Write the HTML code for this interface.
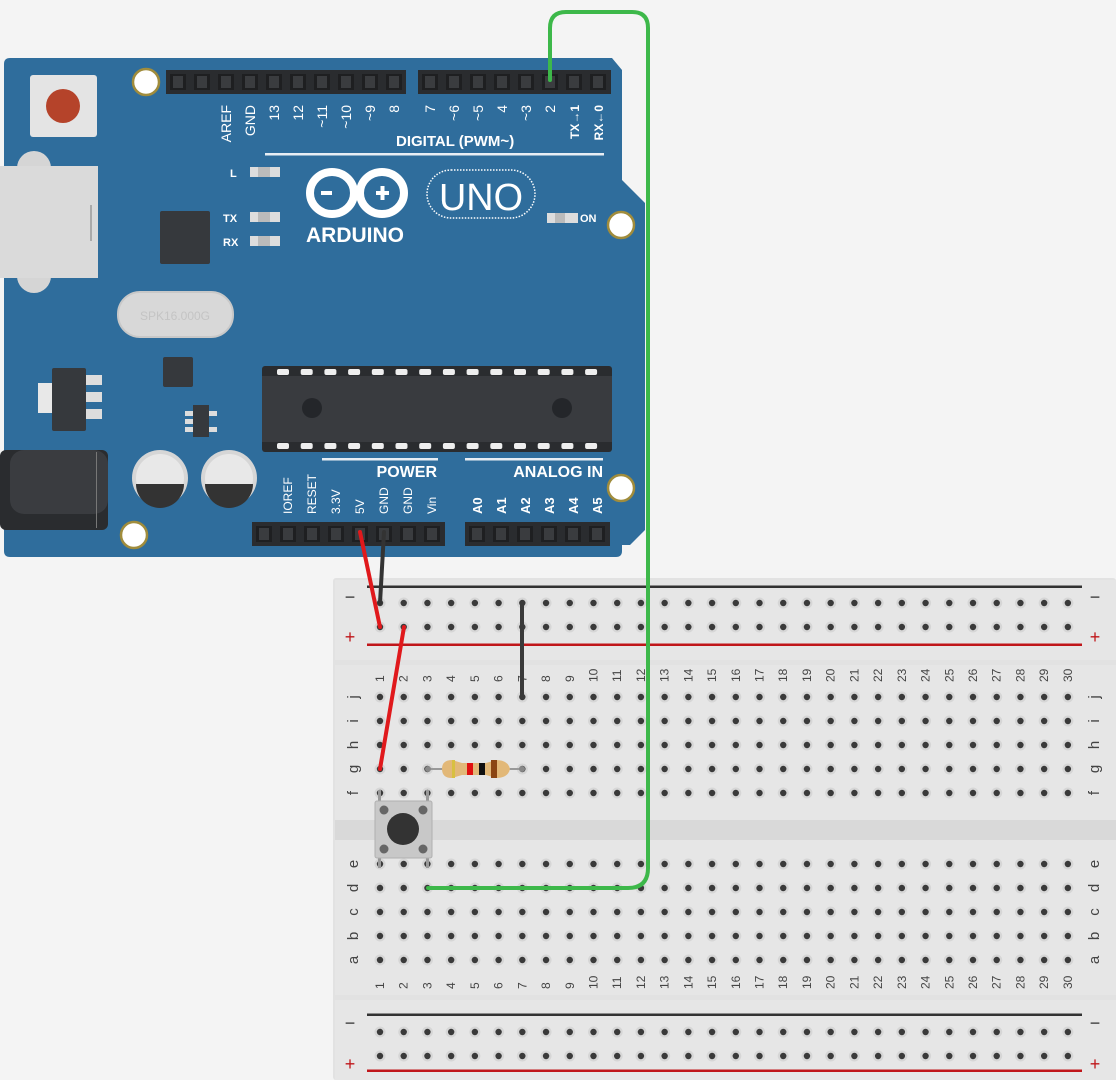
<!DOCTYPE html>
<html><head><meta charset="utf-8"><style>
html,body{margin:0;padding:0;background:#f4f4f4;}
svg{display:block;}
text{font-family:"Liberation Sans",sans-serif;}
</style></head><body>
<svg id="s" width="1116" height="1080" viewBox="0 0 1116 1080" xmlns="http://www.w3.org/2000/svg">
<rect width="1116" height="1080" fill="#f4f4f4"/>
<path d="M4,64 Q4,58 10,58 L612,58 L622,70 L622,180 L645,203 L645,530 L630,545 L622,545 L622,551 Q622,557 616,557 L10,557 Q4,557 4,551 Z" fill="#2f6d9c"/>
<circle cx="34" cy="168" r="17" fill="#d5d5d5"/>
<circle cx="34" cy="276" r="17" fill="#d5d5d5"/>
<rect x="0" y="166" width="98" height="112" fill="#dadada"/>
<rect x="90" y="205" width="2" height="36" fill="#aaa"/>
<rect x="30" y="75" width="67" height="62" rx="3" fill="#e4e4e4"/>
<circle cx="63" cy="106" r="17" fill="#b5432a"/>
<rect x="160" y="211" width="50" height="53" rx="2" fill="#36393d"/>
<rect x="118" y="292" width="115" height="45" rx="22" fill="#d8d8d8" stroke="#c8c8c8" stroke-width="2"/>
<text x="175" y="320" font-size="12" fill="#c4c4c4" text-anchor="middle">SPK16.000G</text>
<rect x="163" y="357" width="30" height="30" rx="2" fill="#36393d"/>
<rect x="38" y="383" width="16" height="30" fill="#e8e8e8"/>
<rect x="52" y="368" width="34" height="63" rx="2" fill="#36393d"/>
<rect x="86" y="375" width="16" height="10" fill="#ddd"/><rect x="86" y="392" width="16" height="10" fill="#ddd"/><rect x="86" y="409" width="16" height="10" fill="#ddd"/>
<rect x="193" y="405" width="16" height="32" fill="#36393d"/>
<rect x="185" y="411" width="8" height="5" fill="#ddd"/><rect x="185" y="419" width="8" height="5" fill="#ddd"/><rect x="185" y="427" width="8" height="5" fill="#ddd"/>
<rect x="209" y="411" width="8" height="5" fill="#ddd"/><rect x="209" y="427" width="8" height="5" fill="#ddd"/>
<rect x="262" y="366" width="350" height="86" rx="3" fill="#2a2c2f"/>
<rect x="262" y="376" width="350" height="66" fill="#393b3f"/>
<g id="pads"></g>
<circle cx="312" cy="408" r="10" fill="#24262a"/><circle cx="562" cy="408" r="10" fill="#24262a"/>
<rect x="0" y="450" width="108" height="80" rx="6" fill="#2a2c2f"/>
<rect x="10" y="450" width="98" height="64" rx="14" fill="#3a3c40"/>
<rect x="96" y="452" width="1" height="76" fill="#777"/>
<g>
<circle cx="160" cy="478" r="28" fill="#d6d6d6"/><circle cx="160" cy="478" r="24" fill="#e8e8e8"/>
<path d="M136,484 L184,484 A24,24 0 0 1 136,484 Z" fill="#333"/>
<circle cx="229" cy="478" r="28" fill="#d6d6d6"/><circle cx="229" cy="478" r="24" fill="#e8e8e8"/>
<path d="M205,484 L253,484 A24,24 0 0 1 205,484 Z" fill="#333"/>
</g>
<g fill="#fff" stroke="#a08c3c" stroke-width="2.5">
<circle cx="146" cy="82" r="13"/><circle cx="621" cy="225" r="13"/><circle cx="621" cy="488" r="13"/><circle cx="134" cy="535" r="13"/>
</g>
<rect x="166" y="70" width="240" height="24" fill="#2a2c2f"/>
<rect x="418" y="70" width="193" height="24" fill="#2a2c2f"/>
<rect x="252" y="522" width="193" height="24" fill="#2a2c2f"/>
<rect x="465" y="522" width="145" height="24" fill="#2a2c2f"/>
<g id="hpins"></g>
<g fill="#fff" font-size="13" id="toplab"></g>
<text x="396" y="146" fill="#fff" font-size="15" font-weight="bold">DIGITAL (PWM~)</text>
<rect x="265" y="153" width="339" height="2.5" fill="#e8eef4"/>
<text x="230" y="177" fill="#fff" font-size="11" font-weight="bold">L</text>
<rect x="250" y="167" width="30" height="10" fill="#ddd"/><rect x="258" y="167" width="12" height="10" fill="#bbb"/>
<text x="223" y="222" fill="#fff" font-size="11" font-weight="bold">TX</text>
<rect x="250" y="212" width="30" height="10" fill="#ddd"/><rect x="258" y="212" width="12" height="10" fill="#bbb"/>
<text x="223" y="246" fill="#fff" font-size="11" font-weight="bold">RX</text>
<rect x="250" y="236" width="30" height="10" fill="#ddd"/><rect x="258" y="236" width="12" height="10" fill="#bbb"/>
<rect x="547" y="213" width="31" height="10" fill="#ddd"/><rect x="555" y="213" width="10" height="10" fill="#bbb"/>
<text x="580" y="222" fill="#fff" font-size="11" font-weight="bold">ON</text>
<g fill="none" stroke="#fff" stroke-width="8">
<ellipse cx="332" cy="193" rx="22" ry="21"/><ellipse cx="382" cy="193" rx="22" ry="21"/>
</g>
<rect x="321" y="191" width="11" height="4" fill="#fff"/>
<rect x="376" y="191" width="13" height="4" fill="#fff"/><rect x="380.5" y="186" width="4" height="14" fill="#fff"/>
<text x="355" y="242" fill="#fff" font-size="21" font-weight="bold" text-anchor="middle">ARDUINO</text>
<rect x="427" y="170" width="108" height="48" rx="24" fill="none" stroke="#fff" stroke-width="1.5" stroke-dasharray="1.5,1.5"/>
<text x="481" y="210" fill="#fff" font-size="38" text-anchor="middle" textLength="84" lengthAdjust="spacingAndGlyphs">UNO</text>
<rect x="322" y="458" width="116" height="2.5" fill="#e8eef4"/>
<rect x="465" y="458" width="138" height="2.5" fill="#e8eef4"/>
<text x="437" y="477" fill="#fff" font-size="16" font-weight="bold" text-anchor="end">POWER</text>
<text x="603" y="477" fill="#fff" font-size="16" font-weight="bold" text-anchor="end">ANALOG IN</text>
<g fill="#fff" font-size="12" id="botlab"></g>

<rect x="333" y="578" width="783" height="502" rx="3" fill="#e2e2e2"/>
<rect x="335" y="580" width="781" height="80" fill="#e6e6e6"/>
<rect x="335" y="665" width="781" height="155" fill="#e6e6e6"/>
<rect x="335" y="840" width="781" height="155" fill="#e6e6e6"/>
<rect x="335" y="1000" width="781" height="80" fill="#e6e6e6"/>
<rect x="335" y="820" width="781" height="20" fill="#d9d9d9"/>
<rect x="367" y="585.5" width="715" height="2.5" fill="#333"/>
<rect x="367" y="643.5" width="715" height="2.5" fill="#c0161a"/>
<rect x="367" y="1013.5" width="715" height="2.5" fill="#333"/>
<rect x="367" y="1069.5" width="715" height="2.5" fill="#c0161a"/>
<g font-size="18">
<text x="350" y="603" text-anchor="middle" fill="#333">−</text>
<text x="350" y="643" text-anchor="middle" fill="#c0161a">+</text>
<text x="1095" y="603" text-anchor="middle" fill="#333">−</text>
<text x="1095" y="643" text-anchor="middle" fill="#c0161a">+</text>
<text x="350" y="1029" text-anchor="middle" fill="#333">−</text>
<text x="350" y="1070" text-anchor="middle" fill="#c0161a">+</text>
<text x="1095" y="1029" text-anchor="middle" fill="#333">−</text>
<text x="1095" y="1070" text-anchor="middle" fill="#c0161a">+</text>
</g>
<g id="holes"></g>
<g id="bblab" fill="#444" font-size="12"></g>

<line x1="428" y1="769" x2="522" y2="769" stroke="#999" stroke-width="2"/>
<circle cx="428" cy="769" r="3" fill="#888"/><circle cx="522" cy="769" r="3" fill="#888"/>
<path d="M442,769 Q442,760 452,760 L462,763 L486,763 L496,760 Q508,760 510,769 Q508,778 496,778 L486,775 L462,775 L452,778 Q442,778 442,769 Z" fill="#e2b878"/>
<rect x="452" y="760" width="3" height="18" fill="#d8c040"/>
<rect x="467" y="763" width="6" height="12" fill="#e01010"/>
<rect x="479" y="763" width="6" height="12" fill="#111"/>
<rect x="491" y="760" width="6" height="18" fill="#8b4513"/>
<rect x="378" y="790" width="3" height="12" fill="#999"/><rect x="426" y="790" width="3" height="12" fill="#999"/>
<rect x="378" y="856" width="3" height="12" fill="#999"/><rect x="426" y="856" width="3" height="12" fill="#999"/>
<rect x="375" y="801" width="57" height="57" rx="2" fill="#c8c8c8" stroke="#b0b0b0"/>
<circle cx="384" cy="810" r="4.5" fill="#666"/><circle cx="423" cy="810" r="4.5" fill="#666"/>
<circle cx="384" cy="849" r="4.5" fill="#666"/><circle cx="423" cy="849" r="4.5" fill="#666"/>
<circle cx="403" cy="829" r="16" fill="#333"/>

<g fill="none" stroke-linecap="round">
<line x1="360" y1="532" x2="380" y2="627" stroke="#e0191c" stroke-width="4"/>
<line x1="384" y1="532" x2="380" y2="603" stroke="#333" stroke-width="4"/>
<line x1="404" y1="627" x2="380" y2="769" stroke="#e0191c" stroke-width="4"/>
<line x1="522" y1="603" x2="522" y2="697" stroke="#3a3a3a" stroke-width="4"/>
<path d="M550,80 L550,28 Q550,12 566,12 L632,12 Q648,12 648,28 L648,868 Q648,888 628,888 L428,888" stroke="#3db84a" stroke-width="4"/>
</g>
</svg>
<script>
var NS="http://www.w3.org/2000/svg";
function el(p,t,a,txt){var e=document.createElementNS(NS,t);for(var k in a)e.setAttribute(k,a[k]);if(txt!==undefined)e.textContent=txt;document.getElementById(p).appendChild(e);return e;}
for(var i=0;i<14;i++){var x=277+i*23.7;el("pads","rect",{x:x,y:369,width:12,height:6,rx:2,fill:"#eee"});el("pads","rect",{x:x,y:443,width:12,height:6,rx:2,fill:"#eee"});}
function pins(x0,y,n){for(var i=0;i<n;i++){var x=x0+i*24;el("hpins","rect",{x:x+4,y:y+4,width:16,height:16,fill:"#1e1f21"});el("hpins","rect",{x:x+7,y:y+6,width:10,height:12,fill:"#3a3c3f"});}}
pins(166,70,10);pins(418,70,8);pins(252,522,8);pins(465,522,6);
var tl=[[226,"AREF"],[250,"GND"],[274,"13"],[298,"12"],[322,"~11"],[346,"~10"],[370,"~9"],[394,"8"],[430,"7"],[454,"~6"],[478,"~5"],[502,"4"],[526,"~3"],[550,"2"]];
tl.forEach(function(a){el("toplab","text",{transform:"translate("+(a[0]+5)+",105) rotate(-90)","text-anchor":"end","font-size":14},a[1]);});
el("toplab","text",{transform:"translate(579,105) rotate(-90)","text-anchor":"end","font-size":12,"font-weight":"bold"},"TX→1");
el("toplab","text",{transform:"translate(603,105) rotate(-90)","text-anchor":"end","font-size":12,"font-weight":"bold"},"RX←0");
var bl=[[288,"IOREF"],[312,"RESET"],[336,"3.3V"],[360,"5V"],[384,"GND"],[408,"GND"],[432,"Vin"]];
bl.forEach(function(a){el("botlab","text",{transform:"translate("+(a[0]+4)+",514) rotate(-90)"},a[1]);});
["A0","A1","A2","A3","A4","A5"].forEach(function(t,i){el("botlab","text",{transform:"translate("+(477+i*24+5)+",514) rotate(-90)","font-weight":"bold","font-size":13},t);});
var rows=[603,627,697,721,745,769,793,864,888,912,936,960,1032,1056];
for(var c=0;c<30;c++){var x=380+c*23.72;rows.forEach(function(y){el("holes","circle",{cx:x,cy:y,r:5.5,fill:"#d6d6d6"});el("holes","circle",{cx:x,cy:y,r:3.2,fill:"#3a3a3a"});});
el("bblab","text",{transform:"translate("+(x+4)+",682) rotate(-90)"},String(c+1));
el("bblab","text",{transform:"translate("+(x+4)+",989) rotate(-90)"},String(c+1));}
var L=[["j",697],["i",721],["h",745],["g",769],["f",793],["e",864],["d",888],["c",912],["b",936],["a",960]];
L.forEach(function(a){el("bblab","text",{transform:"translate(358,"+a[1]+") rotate(-90)","text-anchor":"middle","font-size":15},a[0]);el("bblab","text",{transform:"translate(1099,"+a[1]+") rotate(-90)","text-anchor":"middle","font-size":15},a[0]);});
</script>
</body></html>
